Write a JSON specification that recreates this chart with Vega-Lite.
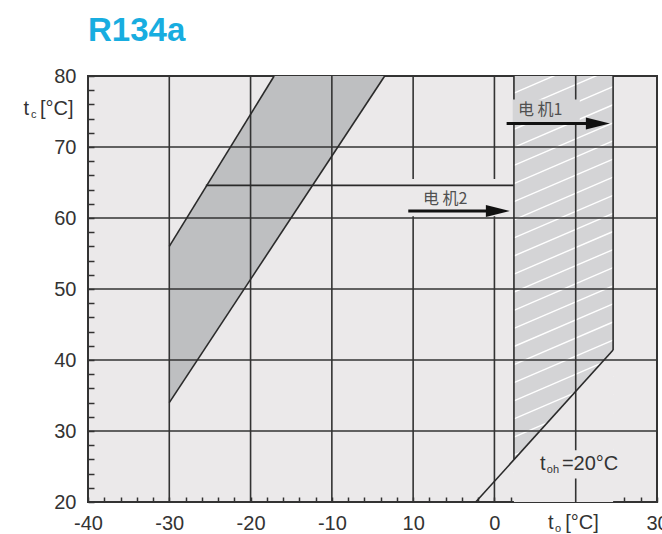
{
  "$schema": "https://vega.github.io/schema/vega-lite/v6.json",
  "width": 569,
  "height": 426,
  "autosize": "none",
  "padding": {"left": 88, "top": 76, "right": 5, "bottom": 32},
  "background": "white",
  "title": {"text": "R134a", "anchor": "start", "frame": "group", "font": "Liberation Sans", "fontSize": 33, "fontWeight": "bold", "color": "#18ade0", "offset": 18},
  "config": {
    "view": {"fill": "#ebe9ea", "stroke": "#333333", "strokeWidth": 2},
    "axis": {"grid": false, "domain": false, "title": null, "ticks": true, "tickWidth": 1.5, "tickColor": "#333333",
      "labelFont": "Liberation Sans", "labelFontSize": 20, "labelColor": "#333333", "labelFlush": false, "labelOverlap": false, "labelBound": false},
    "axisX": {"tickCount": 35, "tickSize": -5, "labelPadding": 16,
      "labelExpr": "datum.value == 0 ? '10' : datum.value == 10 ? '0' : datum.value == 20 ? '' : (datum.value % 10 == 0 ? '' + datum.value : '')"},
    "axisY": {"tickCount": 30, "tickSize": -6, "labelPadding": 18,
      "labelExpr": "datum.value % 10 == 0 ? '' + datum.value : ''"}
  },
  "datasets": {
    "band": [{"x": -30, "y": 34, "y2": 56}, {"x": -17.1, "y": 56.4, "y2": 80}, {"x": -3.5, "y": 80, "y2": 80}],
    "zone": [{"x": 12.4, "y": 26.0, "y2": 80}, {"x": 24.6, "y": 41.4, "y2": 80}],
    "cut": [{"x": 12.4, "y": 20, "y2": 26.0}, {"x": 24.6, "y": 20, "y2": 41.4}],
    "hatch": [
      {"x": 12.4, "y": 21.5, "x2": 24.6, "y2": 27.5},
      {"x": 12.4, "y": 24.05, "x2": 24.6, "y2": 30.05},
      {"x": 12.4, "y": 26.6, "x2": 24.6, "y2": 32.6},
      {"x": 12.4, "y": 29.15, "x2": 24.6, "y2": 35.15},
      {"x": 12.4, "y": 31.7, "x2": 24.6, "y2": 37.7},
      {"x": 12.4, "y": 34.25, "x2": 24.6, "y2": 40.25},
      {"x": 12.4, "y": 36.8, "x2": 24.6, "y2": 42.8},
      {"x": 12.4, "y": 39.35, "x2": 24.6, "y2": 45.35},
      {"x": 12.4, "y": 41.9, "x2": 24.6, "y2": 47.9},
      {"x": 12.4, "y": 44.45, "x2": 24.6, "y2": 50.45},
      {"x": 12.4, "y": 47.0, "x2": 24.6, "y2": 53.0},
      {"x": 12.4, "y": 49.55, "x2": 24.6, "y2": 55.55},
      {"x": 12.4, "y": 52.1, "x2": 24.6, "y2": 58.1},
      {"x": 12.4, "y": 54.65, "x2": 24.6, "y2": 60.65},
      {"x": 12.4, "y": 57.2, "x2": 24.6, "y2": 63.2},
      {"x": 12.4, "y": 59.75, "x2": 24.6, "y2": 65.75},
      {"x": 12.4, "y": 62.3, "x2": 24.6, "y2": 68.3},
      {"x": 12.4, "y": 64.85, "x2": 24.6, "y2": 70.85},
      {"x": 12.4, "y": 67.4, "x2": 24.6, "y2": 73.4},
      {"x": 12.4, "y": 69.95, "x2": 24.6, "y2": 75.95},
      {"x": 12.4, "y": 72.5, "x2": 24.6, "y2": 78.5},
      {"x": 12.4, "y": 75.05, "x2": 24.6, "y2": 81.05},
      {"x": 12.4, "y": 77.6, "x2": 24.6, "y2": 83.6}
    ],
    "gridv": [{"x": -30}, {"x": -20}, {"x": -10}, {"x": 0}, {"x": 10}, {"x": 20}],
    "gridh": [{"y": 30}, {"y": 40}, {"y": 50}, {"y": 60}, {"y": 70}],
    "masks": [{"x": -1.5, "x2": 12.2, "y": 60.25, "y2": 65.5}, {"x": 15.3, "x2": 21.5, "y": 23.3, "y2": 27.3}],
    "hmask": [{"x": 12.25, "x2": 20.5, "y": 73.35, "y2": 76.7}],
    "edges": [
      {"x": -30, "y": 56, "x2": -17.1, "y2": 80},
      {"x": -30, "y": 34, "x2": -3.5, "y2": 80},
      {"x": 12.4, "y": 26.0, "x2": 12.4, "y2": 80},
      {"x": 24.6, "y": 41.4, "x2": 24.6, "y2": 80},
      {"x": 7.7, "y": 20, "x2": 24.6, "y2": 41.4},
      {"x": -25.5, "y": 64.6, "x2": 12.4, "y2": 64.6}
    ],
    "arrows": [{"x": 11.5, "x2": 21.7, "tip": 24.2, "y": 73.3}, {"x": -0.6, "x2": 9.4, "tip": 11.9, "y": 61.0}],
    "motors": [{"x": 12.9, "y": 75.2, "t": "电 机1"}, {"x": 1.2, "y": 62.7, "t": "电 机2"}],
    "big": [
      {"x": 15.6, "y": 25.3, "t": "t"}, {"x": 18.3, "y": 25.3, "t": "=20°C"},
      {"x": -47.95, "y": 75.4, "t": "t"}, {"x": -45.9, "y": 75.4, "t": "[°C]"},
      {"x": 16.6, "y": 17.1, "t": "t"}, {"x": 18.7, "y": 17.1, "t": "[°C]"}
    ],
    "small": [{"x": 16.45, "y": 25.3, "t": "oh"}, {"x": -47.0, "y": 75.4, "t": "c"}, {"x": 17.45, "y": 17.1, "t": "o"}]
  },
  "layer": [
    {
      "data": {"name": "band"},
      "mark": {"type": "area", "color": "#bebfc1", "opacity": 1},
      "encoding": {
        "x": {"field": "x", "type": "quantitative", "title": null, "scale": {"domain": [-40, 30], "nice": false, "zero": false}},
        "y": {"field": "y", "type": "quantitative", "title": null, "scale": {"domain": [20, 80], "nice": false, "zero": false}},
        "y2": {"field": "y2"}
      }
    },
    {
      "data": {"name": "zone"},
      "mark": {"type": "area", "color": "#d4d4d6", "opacity": 1},
      "encoding": {
        "x": {"field": "x", "type": "quantitative", "title": null, "scale": {"domain": [-40, 30], "nice": false, "zero": false}},
        "y": {"field": "y", "type": "quantitative", "title": null, "scale": {"domain": [20, 80], "nice": false, "zero": false}},
        "y2": {"field": "y2"}
      }
    },
    {
      "data": {"name": "hatch"},
      "mark": {"type": "rule", "color": "#ffffff", "strokeWidth": 1.4, "clip": true},
      "encoding": {
        "x": {"field": "x", "type": "quantitative", "title": null, "scale": {"domain": [-40, 30], "nice": false, "zero": false}},
        "y": {"field": "y", "type": "quantitative", "title": null, "scale": {"domain": [20, 80], "nice": false, "zero": false}},
        "x2": {"field": "x2"},
        "y2": {"field": "y2"}
      }
    },
    {
      "data": {"name": "cut"},
      "mark": {"type": "area", "color": "#ebe9ea", "opacity": 1},
      "encoding": {
        "x": {"field": "x", "type": "quantitative", "title": null, "scale": {"domain": [-40, 30], "nice": false, "zero": false}},
        "y": {"field": "y", "type": "quantitative", "title": null, "scale": {"domain": [20, 80], "nice": false, "zero": false}},
        "y2": {"field": "y2"}
      }
    },
    {
      "data": {"name": "gridv"},
      "mark": {"type": "rule", "color": "#333333", "strokeWidth": 1.6},
      "encoding": {
        "x": {"field": "x", "type": "quantitative", "title": null, "scale": {"domain": [-40, 30], "nice": false, "zero": false}}
      }
    },
    {
      "data": {"name": "gridh"},
      "mark": {"type": "rule", "color": "#333333", "strokeWidth": 1.6},
      "encoding": {
        "y": {"field": "y", "type": "quantitative", "title": null, "scale": {"domain": [20, 80], "nice": false, "zero": false}}
      }
    },
    {
      "data": {"name": "masks"},
      "mark": {"type": "rect", "color": "#ebe9ea", "opacity": 1},
      "encoding": {
        "x": {"field": "x", "type": "quantitative", "title": null, "scale": {"domain": [-40, 30], "nice": false, "zero": false}},
        "y": {"field": "y", "type": "quantitative", "title": null, "scale": {"domain": [20, 80], "nice": false, "zero": false}},
        "x2": {"field": "x2"},
        "y2": {"field": "y2"}
      }
    },
    {
      "data": {"name": "edges"},
      "mark": {"type": "rule", "color": "#2a2a2a", "strokeWidth": 1.6},
      "encoding": {
        "x": {"field": "x", "type": "quantitative", "title": null, "scale": {"domain": [-40, 30], "nice": false, "zero": false}},
        "y": {"field": "y", "type": "quantitative", "title": null, "scale": {"domain": [20, 80], "nice": false, "zero": false}},
        "x2": {"field": "x2"},
        "y2": {"field": "y2"}
      }
    },
    {
      "data": {"name": "hmask"},
      "mark": {"type": "rect", "color": "#d4d4d6", "opacity": 1},
      "encoding": {
        "x": {"field": "x", "type": "quantitative", "title": null, "scale": {"domain": [-40, 30], "nice": false, "zero": false}},
        "y": {"field": "y", "type": "quantitative", "title": null, "scale": {"domain": [20, 80], "nice": false, "zero": false}},
        "x2": {"field": "x2"},
        "y2": {"field": "y2"}
      }
    },
    {
      "data": {"name": "arrows"},
      "mark": {"type": "rule", "color": "#111111", "strokeWidth": 3},
      "encoding": {
        "x": {"field": "x", "type": "quantitative", "title": null, "scale": {"domain": [-40, 30], "nice": false, "zero": false}},
        "y": {"field": "y", "type": "quantitative", "title": null, "scale": {"domain": [20, 80], "nice": false, "zero": false}},
        "x2": {"field": "x2"}
      }
    },
    {
      "data": {"name": "arrows"},
      "mark": {"type": "point", "shape": "M0,0L-2,-0.5L-2,0.5Z", "size": 576, "filled": true, "color": "#111111", "opacity": 1, "strokeWidth": 0},
      "encoding": {
        "x": {"field": "tip", "type": "quantitative", "title": null, "scale": {"domain": [-40, 30], "nice": false, "zero": false}},
        "y": {"field": "y", "type": "quantitative", "title": null, "scale": {"domain": [20, 80], "nice": false, "zero": false}}
      }
    },
    {
      "data": {"name": "motors"},
      "mark": {"type": "text", "align": "left", "baseline": "middle", "font": "Noto Sans CJK SC", "fontSize": 16, "color": "#505050"},
      "encoding": {
        "x": {"field": "x", "type": "quantitative", "title": null, "scale": {"domain": [-40, 30], "nice": false, "zero": false}},
        "y": {"field": "y", "type": "quantitative", "title": null, "scale": {"domain": [20, 80], "nice": false, "zero": false}},
        "text": {"field": "t"}
      }
    },
    {
      "data": {"name": "big"},
      "mark": {"type": "text", "align": "left", "baseline": "middle", "font": "Liberation Sans", "fontSize": 20, "color": "#333333"},
      "encoding": {
        "x": {"field": "x", "type": "quantitative", "title": null, "scale": {"domain": [-40, 30], "nice": false, "zero": false}},
        "y": {"field": "y", "type": "quantitative", "title": null, "scale": {"domain": [20, 80], "nice": false, "zero": false}},
        "text": {"field": "t"}
      }
    },
    {
      "data": {"name": "small"},
      "mark": {"type": "text", "align": "left", "baseline": "middle", "font": "Liberation Sans", "fontSize": 11, "color": "#333333", "dy": 6},
      "encoding": {
        "x": {"field": "x", "type": "quantitative", "title": null, "scale": {"domain": [-40, 30], "nice": false, "zero": false}},
        "y": {"field": "y", "type": "quantitative", "title": null, "scale": {"domain": [20, 80], "nice": false, "zero": false}},
        "text": {"field": "t"}
      }
    }
  ]
}
